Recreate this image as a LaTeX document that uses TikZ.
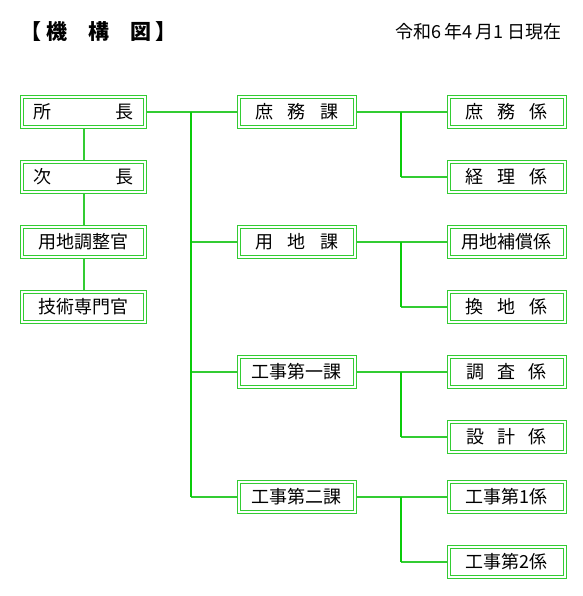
\documentclass[tikz,border=0pt]{standalone}
\usepackage{fontspec}
\setmainfont{Noto Sans CJK JP}
\definecolor{boxgreen}{RGB}{51,204,51}
\definecolor{trunkgreen}{RGB}{10,204,10}
\newcommand{\spaced}[2]{\makebox[#1][s]{#2}}
\tikzset{
  box/.style={draw=boxgreen, double=white, line width=1pt, double distance=2pt,
    minimum height=29.5pt, inner sep=0pt, outer sep=2pt, font=\fontsize{18}{18}\selectfont},
  leftbox/.style={box, minimum width=123pt},
  unitbox/.style={box, minimum width=116pt},
  link/.style={draw=boxgreen, line width=2pt},
  trunk/.style={draw=trunkgreen, line width=2pt},
}

\begin{document}
\begin{tikzpicture}[x=1pt, y=-1pt]
  \useasboundingbox (0,0) rectangle (582,596);
  \node[anchor=west, inner sep=0pt, font=\fontsize{21}{21}\selectfont\bfseries] (title) at (20,32) {【 機　構　図 】};
  \node[anchor=east, inner sep=0pt, font=\fontsize{18}{18}\selectfont] (date) at (562,32) {令和6\,年4\,月1\ 日現在};

  \node[leftbox] (shocho) at (83.5,112) {\spaced{100pt}{所\hfil 長}};
  \node[leftbox] (jicho) at (83.5,177) {\spaced{100pt}{次\hfil 長}};
  \node[leftbox] (yochichosei) at (83.5,242) {用地調整官};
  \node[leftbox] (gijutsu) at (83.5,307) {技術専門官};

  \node[unitbox] (shomuka) at (296.5,112) {\spaced{83pt}{庶\hfil 務\hfil 課}};
  \node[unitbox] (yochika) at (296.5,242) {\spaced{83pt}{用\hfil 地\hfil 課}};
  \node[unitbox] (koji1ka) at (296.5,372) {工事第一課};
  \node[unitbox] (koji2ka) at (296.5,497) {工事第二課};

  \node[unitbox] (shomu) at (506.5,112) {\spaced{82pt}{庶\hfil 務\hfil 係}};
  \node[unitbox] (keiri) at (506.5,177) {\spaced{82pt}{経\hfil 理\hfil 係}};
  \node[unitbox] (hosho) at (506.5,242) {用地補償係};
  \node[unitbox] (kanchi) at (506.5,307) {\spaced{82pt}{換\hfil 地\hfil 係}};
  \node[unitbox] (chosa) at (506.5,372) {\spaced{80pt}{調\hfil 査\hfil 係}};
  \node[unitbox] (sekkei) at (506.5,437) {\spaced{80pt}{設\hfil 計\hfil 係}};
  \node[unitbox] (koji1) at (506.5,497) {工事第1係};
  \node[unitbox] (koji2) at (506.5,562) {工事第2係};

  \draw[link] (shocho.south) -- (jicho.north);
  \draw[link] (jicho.south) -- (yochichosei.north);
  \draw[link] (yochichosei.south) -- (gijutsu.north);

  \draw[link] (shocho.east) -- (shomuka.west);
  \path (shocho.east) ++(44,0) coordinate (fork);
  \foreach \ka in {yochika, koji1ka, koji2ka}
    \draw[link] (fork |- \ka.west) -- (\ka.west);
  \draw[trunk] (fork) -- (fork |- koji2ka.west);

  \foreach \ka/\first/\second in {shomuka/shomu/keiri, yochika/hosho/kanchi, koji1ka/chosa/sekkei, koji2ka/koji1/koji2} {
    \draw[link] (\ka.east) -- (\first.west);
    \path (\first.west) ++(-45.5,0) coordinate (branch);
    \draw[link] (branch |- \second.west) -- (\second.west);
    \draw[trunk] (branch) -- (branch |- \second.west);
  }
\end{tikzpicture}
\end{document}
